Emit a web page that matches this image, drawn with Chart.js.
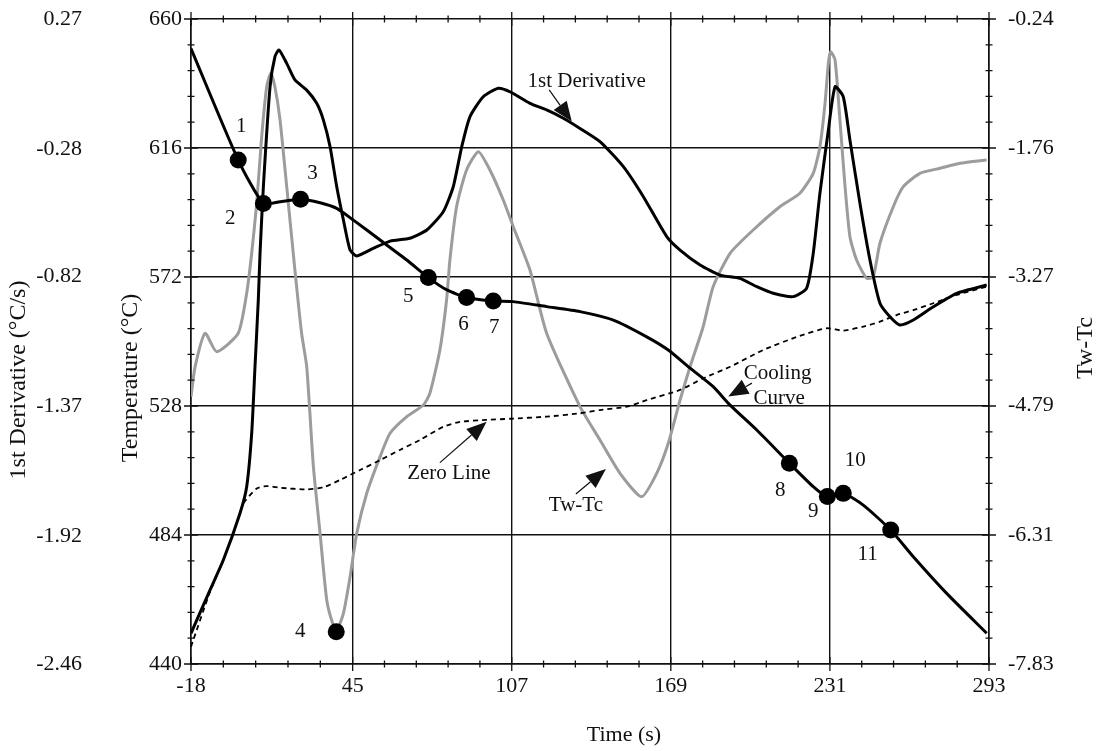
<!DOCTYPE html>
<html>
<head>
<meta charset="utf-8">
<script src="https://cdn.jsdelivr.net/npm/chart.js@4.4.1/dist/chart.umd.min.js"></script>
<style>
  html, body { margin: 0; padding: 0; background: #fff; }
</style>
</head>
<body>
<canvas id="myChart" width="1101" height="751"></canvas>
<script>
// axis tick values
const timeTicks = [-18, 45, 107, 169, 231, 293];
const tempTicks = [440, 484, 528, 572, 616, 660];
const derivTicks = [-2.46, -1.92, -1.37, -0.82, -0.28, 0.27];
const twTicks = [-7.83, -6.31, -4.79, -3.27, -1.76, -0.24];

// cooling curve, temperature (C) vs time (s)
const coolTime = [-18, 0.4, 10.2, 16.7, 24.7, 32.3, 38.8, 45.3, 55.7, 66.1, 74.5, 81.7, 89.4, 99.8, 107.6, 120.6, 133.6, 146.6, 159.6, 168.0, 176.5, 185.5, 192.1, 202.5, 215.2, 224.5, 230.0, 236.2, 244.0, 254.7, 263.5, 276.5, 292.1];
const coolTemp = [649.9, 611.9, 597.1, 597.7, 598.5, 597.3, 595.4, 591.4, 584.6, 577.8, 571.8, 567.6, 565.0, 563.8, 563.6, 561.9, 560.2, 557.3, 551.6, 547.1, 540.9, 534.6, 528.3, 519.8, 508.5, 500.5, 497.1, 498.2, 494.2, 485.7, 476.6, 464.1, 450.5];

// 1st derivative (C/s)
const derivTime = [-18, -10.6, -5.4, 1.1, 3.7, 5.65, 6.94, 8.23, 8.9, 10.2, 12.8, 14.7, 16.3, 19.3, 22.5, 27.1, 31.0, 33.6, 36.2, 38.8, 41.4, 44.0, 46.6, 53.0, 59.6, 67.3, 73.9, 80.3, 84.2, 87.5, 90.7, 95.9, 101.8, 106.3, 114.1, 120.6, 127.1, 133.6, 141.4, 150.5, 158.3, 167.4, 172.6, 180.4, 188.2, 195.9, 202.5, 208.9, 216.7, 221.9, 224.5, 227.1, 230.4, 233.0, 236.2, 238.8, 242.7, 246.6, 250.5, 254.4, 258.3, 263.5, 271.3, 280.4, 292.1];
const derivVal = [-2.33, -2.147, -2.02, -1.822, -1.71, -1.484, -1.202, -0.919, -0.722, -0.44, -0.017, 0.11, 0.139, 0.082, 0.012, -0.031, -0.087, -0.158, -0.271, -0.44, -0.581, -0.708, -0.733, -0.701, -0.67, -0.658, -0.623, -0.546, -0.44, -0.271, -0.144, -0.059, -0.023, -0.038, -0.087, -0.115, -0.15, -0.193, -0.249, -0.355, -0.482, -0.651, -0.708, -0.771, -0.814, -0.828, -0.863, -0.891, -0.905, -0.87, -0.722, -0.468, -0.2, -0.017, -0.059, -0.242, -0.51, -0.75, -0.933, -0.99, -1.025, -1.004, -0.948, -0.891, -0.856];

// zero line (C/s)
const zeroTime = [-18, -10.6, -5.4, 1.1, 2.4, 7.6, 11.5, 16.7, 27.1, 33.6, 40.1, 47.9, 55.7, 63.4, 71.2, 80.3, 86.8, 97.2, 106.3, 120.6, 133.6, 141.4, 151.8, 159.6, 172.6, 181.6, 192.1, 205.0, 218.0, 229.7, 236.2, 244.0, 250.5, 257.0, 263.5, 271.3, 280.4, 292.1];
const zeroVal = [-2.387, -2.155, -2.02, -1.822, -1.78, -1.717, -1.707, -1.714, -1.721, -1.712, -1.681, -1.639, -1.597, -1.554, -1.512, -1.456, -1.435, -1.427, -1.422, -1.413, -1.399, -1.385, -1.371, -1.343, -1.3, -1.251, -1.202, -1.131, -1.076, -1.039, -1.049, -1.032, -1.011, -0.983, -0.962, -0.933, -0.898, -0.863];

// Tw-Tc
const twTime = [-18, -16.4, -12.5, -8.0, 0.4, 3.7, 5.65, 7.6, 9.55, 11.5, 13.1, 14.7, 16.7, 19.3, 22.5, 25.1, 27.1, 29.7, 32.3, 34.9, 37.2, 38.8, 41.4, 44.0, 46.6, 50.5, 55.7, 59.6, 66.1, 72.6, 75.1, 79.0, 81.6, 82.9, 85.5, 89.4, 94.0, 98.5, 103.7, 107.6, 114.1, 120.6, 133.6, 141.4, 149.2, 157.6, 163.5, 168.0, 172.6, 176.5, 181.6, 185.5, 192.1, 201.1, 211.5, 219.3, 224.5, 227.1, 229.1, 230.4, 231.3, 233.0, 234.9, 236.9, 238.8, 241.4, 245.3, 247.9, 250.5, 255.7, 259.6, 266.1, 273.9, 281.7, 292.1];
const twVal = [-4.684, -4.331, -3.938, -4.155, -3.938, -3.468, -2.997, -2.409, -1.625, -1.037, -0.879, -1.037, -1.428, -2.213, -3.194, -3.938, -4.331, -5.508, -6.292, -7.077, -7.351, -7.43, -7.233, -6.802, -6.292, -5.821, -5.39, -5.115, -4.92, -4.782, -4.644, -4.135, -3.547, -3.076, -2.449, -2.017, -1.801, -2.017, -2.37, -2.684, -3.194, -3.938, -4.802, -5.194, -5.586, -5.861, -5.586, -5.233, -4.723, -4.331, -3.861, -3.39, -2.997, -2.723, -2.449, -2.291, -2.056, -1.743, -1.232, -0.761, -0.625, -0.722, -1.428, -2.213, -2.802, -3.076, -3.291, -3.272, -2.879, -2.449, -2.213, -2.056, -1.997, -1.938, -1.899];

// numbered points on the cooling curve
const markNames = ['1', '2', '3', '5', '6', '7', '8', '9', '10', '11'];
const markTime = [0.4, 10.2, 24.7, 74.5, 89.4, 99.8, 215.2, 230.0, 236.2, 254.7];
const markTemp = [611.9, 597.1, 598.5, 571.8, 565.0, 563.8, 508.5, 497.1, 498.2, 485.7];
// point 4 sits on the Tw-Tc minimum
const minName = ['4'];
const minTime = [38.6];
const minTw = [-7.45];

// label offsets (px) for the numbered points
const markOffsets = [[3, -34], [-33, 15], [12, -26], [-20, 19], [-3, 27], [1, 26], [-9, 27], [-14, 15], [12, -33], [-23, 24]];
const minOffsets = [[-36, 0]];

// callouts, placed in time / temperature units
const notes = [
    { lines: ['1st Derivative'], at: [[136.2, 638.6]], from: [121.6, 635.8], tip: [130.4, 625.0] },
    { lines: ['Zero Line'], at: [[82.5, 505.1]], from: [79.0, 508.7], tip: [97.2, 522.6] },
    { lines: ['Tw-Tc'], at: [[132.0, 494.2]], from: [132.0, 498.0], tip: [143.7, 506.5] },
    { lines: ['Cooling', 'Curve'], at: [[210.6, 539.1], [211.2, 530.6]], from: [200.6, 535.8], tip: [191.4, 531.2] }
];

const FONT = '"Liberation Serif", "Times New Roman", serif';
const ink = '#111';

function pts(xs, ys) {
    return xs.map((x, i) => ({ x: x, y: ys[i] }));
}
function setTicks(list) {
    return function (scale) { scale.ticks = list.map(v => ({ value: v })); };
}

function vText(ctx, text, x, y) {
    ctx.save();
    ctx.translate(x, y);
    ctx.rotate(-Math.PI / 2);
    ctx.fillText(text, 0, 0);
    ctx.restore();
}

const decorations = {
    id: 'decorations',
    afterDraw(chart) {
        const { ctx, chartArea: a } = chart;
        const xs = chart.scales.x, ys = chart.scales.y;
        ctx.save();
        ctx.strokeStyle = ink;
        ctx.fillStyle = ink;
        ctx.lineWidth = 1.3;

        // "+" tick marks on all four sides, 5 minor steps per interval
        function cross(px, py, h, vertical) {
            if (vertical) { ctx.moveTo(px, py - h); ctx.lineTo(px, py + h); }
            else { ctx.moveTo(px - h, py); ctx.lineTo(px + h, py); }
        }
        ctx.beginPath();
        for (let k = 0; k < timeTicks.length; k++) {
            const steps = k < timeTicks.length - 1 ? 5 : 1;
            for (let m = 0; m < steps; m++) {
                const v = k < timeTicks.length - 1 ? timeTicks[k] + m * (timeTicks[k + 1] - timeTicks[k]) / 5 : timeTicks[k];
                const h = m === 0 ? 7 : 3.5;
                const px = xs.getPixelForValue(v);
                cross(px, a.bottom, h, true);
                cross(px, a.top, h, true);
            }
        }
        for (let k = 0; k < tempTicks.length; k++) {
            const steps = k < tempTicks.length - 1 ? 5 : 1;
            for (let m = 0; m < steps; m++) {
                const v = k < tempTicks.length - 1 ? tempTicks[k] + m * (tempTicks[k + 1] - tempTicks[k]) / 5 : tempTicks[k];
                const h = m === 0 ? 7 : 3.5;
                const py = ys.getPixelForValue(v);
                cross(a.left, py, h, false);
                cross(a.right, py, h, false);
            }
        }
        ctx.stroke();

        // axis titles
        ctx.textAlign = 'center';
        ctx.textBaseline = 'middle';
        ctx.font = '24px ' + FONT;
        vText(ctx, '1st Derivative (°C/s)', 19, 380);
        vText(ctx, 'Temperature (°C)', 131, 378);
        vText(ctx, 'Tw-Tc', 1086, 348);
        ctx.font = '22px ' + FONT;
        ctx.fillText('Time (s)', 624, 735);

        // numbered points
        ctx.font = '21px ' + FONT;
        const m0 = chart.getDatasetMeta(0).data;
        m0.forEach((el, i) => {
            ctx.fillText(markNames[i], el.x + markOffsets[i][0], el.y + markOffsets[i][1]);
        });
        const m1 = chart.getDatasetMeta(1).data;
        m1.forEach((el, i) => {
            ctx.fillText(minName[i], el.x + minOffsets[i][0], el.y + minOffsets[i][1]);
        });

        // callouts with arrows
        notes.forEach(n => {
            n.lines.forEach((t, i) => {
                ctx.fillText(t, xs.getPixelForValue(n.at[i][0]), ys.getPixelForValue(n.at[i][1]));
            });
            const x0 = xs.getPixelForValue(n.from[0]), y0 = ys.getPixelForValue(n.from[1]);
            const x1 = xs.getPixelForValue(n.tip[0]), y1 = ys.getPixelForValue(n.tip[1]);
            const ang = Math.atan2(y1 - y0, x1 - x0);
            const len = 20, half = 8;
            const bx = x1 - len * Math.cos(ang), by = y1 - len * Math.sin(ang);
            ctx.lineWidth = 1.2;
            ctx.beginPath();
            ctx.moveTo(x0, y0);
            ctx.lineTo(bx, by);
            ctx.stroke();
            ctx.beginPath();
            ctx.moveTo(x1, y1);
            ctx.lineTo(bx + half * Math.sin(ang), by - half * Math.cos(ang));
            ctx.lineTo(bx - half * Math.sin(ang), by + half * Math.cos(ang));
            ctx.closePath();
            ctx.fill();
        });
        ctx.restore();
    }
};

const tickFont = { family: FONT, size: 22 };
// tick padding also pads the plot top, so the label gap comes from invisible tick marks instead
function gap(len) {
    return { drawOnChartArea: false, drawTicks: true, tickLength: len, tickColor: 'rgba(0,0,0,0)' };
}

new Chart(document.getElementById('myChart').getContext('2d'), {
    type: 'line',
    data: {
        datasets: [
            { data: pts(markTime, markTemp), yAxisID: 'y', showLine: false, pointRadius: 8.5, pointBackgroundColor: '#000', pointBorderWidth: 0 },
            { data: pts(minTime, minTw), yAxisID: 'tw', showLine: false, pointRadius: 8.5, pointBackgroundColor: '#000', pointBorderWidth: 0 },
            { data: pts(coolTime, coolTemp), yAxisID: 'y', borderColor: '#000', borderWidth: 3, tension: 0.2 },
            { data: pts(derivTime, derivVal), yAxisID: 'yd', borderColor: '#000', borderWidth: 3, tension: 0.2 },
            { data: pts(zeroTime, zeroVal), yAxisID: 'yd', borderColor: '#000', borderWidth: 1.8, borderDash: [5, 4], tension: 0.2 },
            { data: pts(twTime, twVal), yAxisID: 'tw', borderColor: '#9c9c9c', borderWidth: 3, tension: 0.2 }
        ]
    },
    options: {
        responsive: false,
        animation: false,
        devicePixelRatio: 1,
        layout: { padding: { top: 19, left: 0, right: 0, bottom: 0 } },
        elements: { point: { radius: 0 } },
        plugins: { legend: { display: false }, tooltip: { enabled: false } },
        scales: {
            x: {
                type: 'linear',
                min: -18,
                max: 293,
                afterBuildTicks: setTicks(timeTicks),
                afterFit: function (s) { s.height = 87; },
                grid: { color: ink, lineWidth: 1.4, drawTicks: false },
                border: { color: ink, width: 1.6 },
                ticks: { font: tickFont, color: ink, padding: 9, maxRotation: 0, autoSkip: false }
            },
            y: {
                type: 'linear',
                position: 'left',
                weight: 0,
                min: 440,
                max: 660,
                afterBuildTicks: setTicks(tempTicks),
                afterFit: function (s) { s.width = 81; },
                grid: { color: ink, lineWidth: 1.4, drawTicks: true, tickLength: 9, tickColor: 'rgba(0,0,0,0)' },
                border: { color: ink, width: 1.6 },
                ticks: { font: tickFont, color: ink, padding: 0, autoSkip: false }
            },
            yd: {
                type: 'linear',
                position: 'left',
                weight: 1,
                min: -2.46,
                max: 0.27,
                afterBuildTicks: setTicks(derivTicks),
                afterFit: function (s) { s.width = 110; },
                grid: gap(28),
                border: { display: false },
                ticks: { font: tickFont, color: ink, padding: 0, autoSkip: false, callback: v => v.toFixed(2) }
            },
            tw: {
                type: 'linear',
                position: 'right',
                min: -7.83,
                max: -0.24,
                afterBuildTicks: setTicks(twTicks),
                afterFit: function (s) { s.width = 112; },
                grid: gap(19),
                border: { color: ink, width: 1.6 },
                ticks: { font: tickFont, color: ink, padding: 0, autoSkip: false, callback: v => v.toFixed(2) }
            }
        }
    },
    plugins: [decorations]
});
</script>
</body>
</html>
